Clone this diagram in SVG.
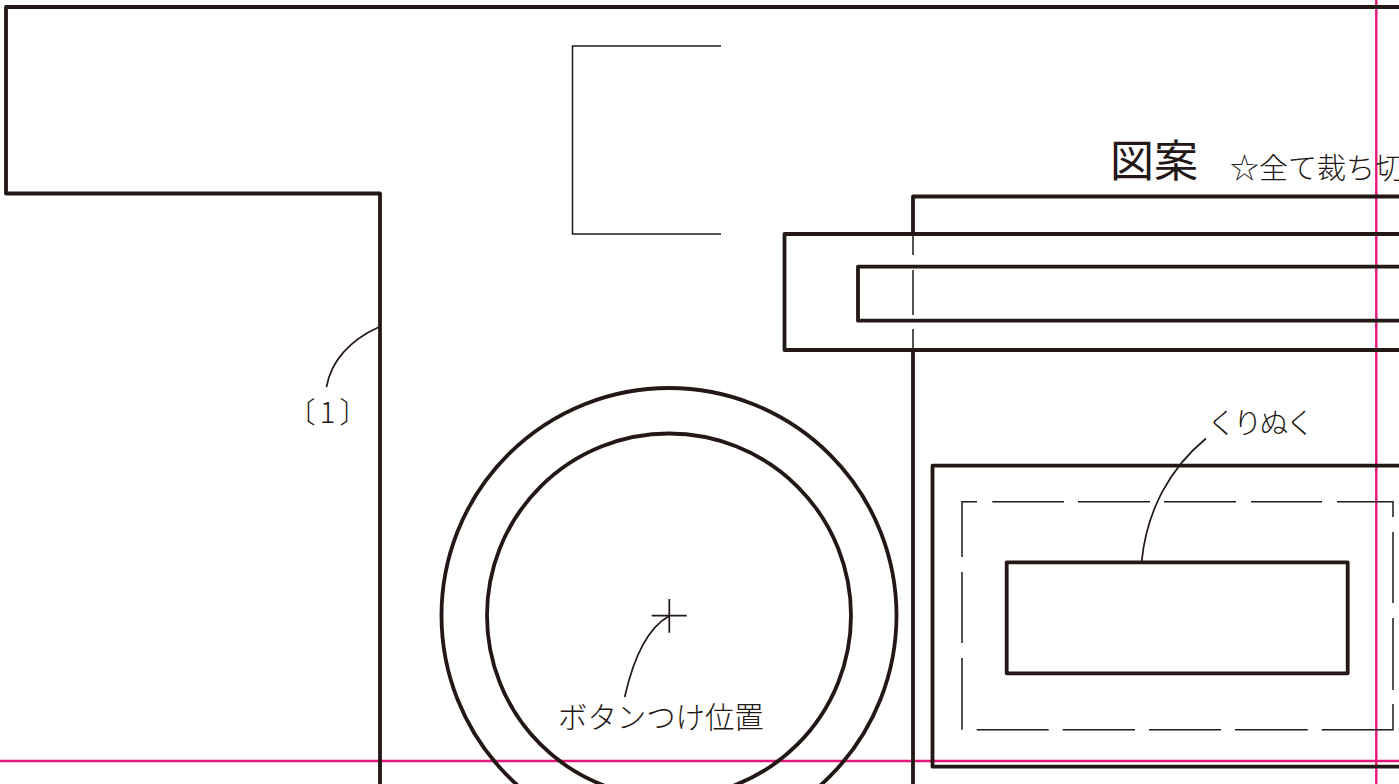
<svg xmlns="http://www.w3.org/2000/svg" width="1399" height="784" viewBox="0 0 1399 784">
<style>
.k{fill:none;stroke:#231815;stroke-width:3.8;stroke-linejoin:round}
.t{fill:none;stroke:#231815;stroke-width:1.5}
.l{fill:none;stroke:#231815;stroke-width:1.7}
.g{fill:none;stroke:#e5177b;stroke-width:2.4}
text{fill:#231815;font-family:"Noto Sans CJK JP","Noto Sans",sans-serif;font-weight:300}
</style>
<rect width="1399" height="784" fill="#fff"/>
<g id="guides"><path class="g" d="M1376.3 0V784M0 761H1399"/></g>
<g id="body-outline"><path class="k" d="M1399 7H6V193.5H380V784"/></g>
<g id="thin-bracket"><path class="t" d="M721 46H572.5V234H721"/></g>
<g id="pocket-panel">
<path class="k" d="M1399 196.5H913V234M913 350V784"/>
<path class="t" d="M913 234V255M913 270V315M913 329V350"/>
</g>
<g id="outer-band"><path class="k" d="M1399 234H784.5V350H1399"/></g>
<g id="inner-band"><path class="k" d="M1399 266.7H858V320.7H1399"/></g>
<g id="outer-circle"><circle class="k" cx="669" cy="615.5" r="227.5"/></g>
<g id="inner-circle"><circle class="k" cx="669" cy="615.5" r="182"/></g>
<g id="button-mark"><path class="l" d="M669.3 599V632.7M651.7 615.7H686.7"/></g>
<g id="window-frame"><path class="k" d="M1399 465.7H932.5V766.7H1399"/></g>
<g id="window-stitch"><path class="t" d="M977 501.7H962V557M962 572V643M962 658V729.7M976.7 729.7H1048.7M1062.7 729.7H1135M1149 729.7H1221M1235 729.7H1307.7M1321.7 729.7H1393V704M1393 690V618M1393 603V532M1393 517V501.7H1337M1322 501.7H1251M1236 501.7H1164M1150 501.7H1078M1064 501.7H992.3"/></g>
<g id="window-cutout"><rect class="k" x="1006.7" y="562.3" width="341" height="111"/></g>
<g id="connectors">
<path class="l" d="M326.5 387C331 361 350 340 379 327"/>
<path class="l" d="M624.7 697C633 660 646 629 669 616"/>
<path class="l" d="M1206 438.5C1170 468 1147 510 1141.7 561"/>
</g>
<g id="label-1"><text x="329.5" y="423" font-size="29" letter-spacing="4" text-anchor="middle">〔1〕</text></g>
<g id="label-button"><text x="558" y="728" font-size="29.4">ボタンつけ位置</text></g>
<g id="label-cut"><text x="1207" y="434" font-size="29" letter-spacing="-2.8">くりぬく</text></g>
<g id="title"><text x="1110" y="177" font-size="44" style="font-weight:400">図案</text><text x="1230" y="179" font-size="29">☆全て裁ち切</text></g>
</svg>
